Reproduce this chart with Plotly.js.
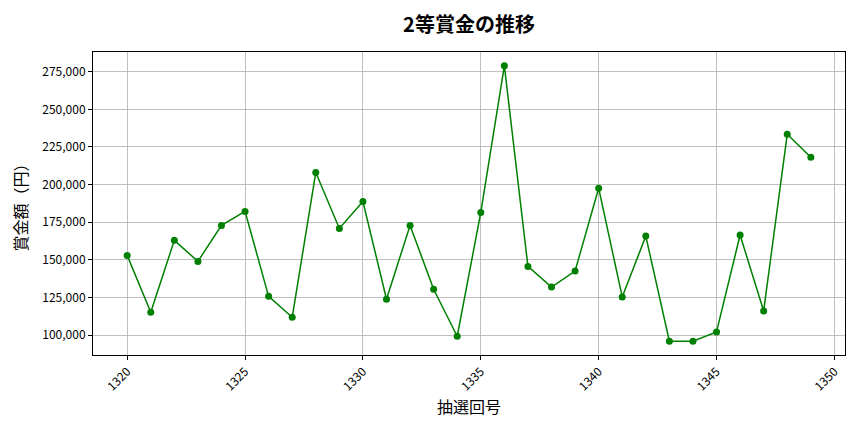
<!DOCTYPE html>
<html>
<head>
<meta charset="utf-8">
<script src="https://cdn.plot.ly/plotly-3.0.1.min.js"></script>
<style>html,body{margin:0;padding:0;background:#fff;}#chart{width:864px;height:432px;}</style>
</head>
<body>
<div id="chart"></div>
<script>
const drawNumbers = [1320,1321,1322,1323,1324,1325,1326,1327,1328,1329,1330,1331,1332,1333,1334,1335,1336,1337,1338,1339,1340,1341,1342,1343,1344,1345,1346,1347,1348,1349];
const prizeAmounts = [153000,115200,163000,149000,172900,182200,125800,111900,208000,170900,188800,123900,172900,130500,99300,181500,278900,145700,132000,142600,197600,125400,165800,96000,96000,102200,166500,116100,233400,218200];
const xTickValues = [1320,1325,1330,1335,1340,1345,1350];
const yTickValues = [100000,125000,150000,175000,200000,225000,250000,275000];

const FONT = '"Noto Sans CJK JP", "Noto Sans", sans-serif';

const trace = {
  x: drawNumbers,
  y: prizeAmounts,
  type: 'scatter',
  mode: 'lines+markers',
  line: {color: '#008000', width: 1.5},
  marker: {color: '#008000', size: 7},
  showlegend: false,
  hoverinfo: 'x+y'
};

const layout = {
  width: 864,
  height: 432,
  margin: {l: 93, r: 19, t: 52, b: 77},
  paper_bgcolor: '#ffffff',
  plot_bgcolor: '#ffffff',
  font: {family: FONT, color: '#000000', size: 12},
  title: {
    text: '<b>2等賞金の推移</b>',
    font: {family: FONT, size: 20, color: '#000000'},
    xref: 'paper', x: 0.5, xanchor: 'center', yref: 'container', y: 0.942, yanchor: 'middle'
  },
  xaxis: {
    range: [1318.55, 1350.45],
    tickvals: xTickValues,
    ticktext: xTickValues.map(String),
    tickangle: -45,
    ticks: 'outside', ticklen: 4, tickwidth: 1, tickcolor: '#000',
    showline: true, linecolor: '#000', linewidth: 1, mirror: true,
    showgrid: true, gridcolor: '#b0b0b0', gridwidth: 0.8,
    zeroline: false,
    tickfont: {family: FONT, size: 12, color: '#000'},
    title: {text: '抽選回号', font: {family: FONT, size: 16, color: '#000'}, standoff: 8}
  },
  yaxis: {
    range: [86855, 288045],
    tickvals: yTickValues,
    ticktext: yTickValues.map(v => v.toLocaleString('en-US')),
    ticks: 'outside', ticklen: 4, tickwidth: 1, tickcolor: '#000',
    showline: true, linecolor: '#000', linewidth: 1, mirror: true,
    showgrid: true, gridcolor: '#b0b0b0', gridwidth: 0.8,
    zeroline: false,
    tickfont: {family: FONT, size: 12, color: '#000'},
    title: {text: '賞金額（円）', font: {family: FONT, size: 16, color: '#000'}, standoff: 10}
  }
};

Plotly.newPlot('chart', [trace], layout, {staticPlot: true, displayModeBar: false});
</script>
</body>
</html>
